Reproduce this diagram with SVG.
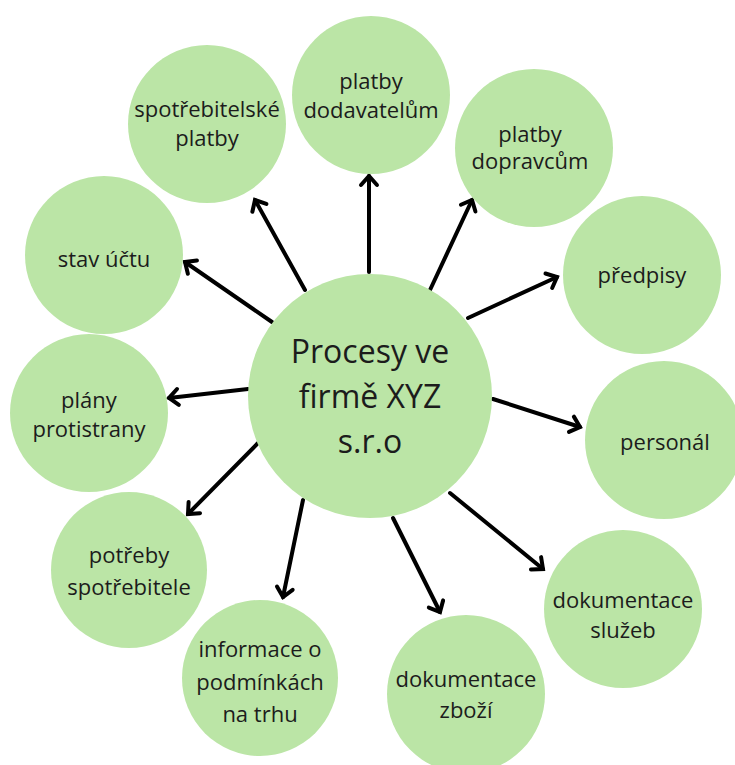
<svg xmlns="http://www.w3.org/2000/svg" width="735" height="765" viewBox="0 0 735 765">
<style>
.c{fill:#bbe5a6}
.t{font-family:"Open Sans","Liberation Sans",sans-serif;font-size:22px;fill:#1c1c1c;text-anchor:middle}
.big{font-size:32px}
.a{stroke:#000;stroke-width:4;fill:none;stroke-linecap:round;marker-end:url(#ah)}
</style>
<defs>
<marker id="ah" markerUnits="userSpaceOnUse" markerWidth="30" markerHeight="30" viewBox="-15 -15 30 30" refX="0" refY="0" orient="auto">
<path d="M-9,-8 L0,0 L-9,8" fill="none" stroke="#000" stroke-width="4" stroke-linecap="round" stroke-linejoin="miter"/>
</marker>
</defs>
<rect width="735" height="765" fill="#fff"/>
<g id="connectors">
<line class="a" x1="305" y1="290" x2="255" y2="200"/>
<line class="a" x1="369" y1="272" x2="369" y2="176"/>
<line class="a" x1="430" y1="290" x2="472" y2="200"/>
<line class="a" x1="468" y1="318" x2="557" y2="277"/>
<line class="a" x1="493" y1="399" x2="580" y2="427"/>
<line class="a" x1="450" y1="493" x2="543" y2="569"/>
<line class="a" x1="393" y1="518" x2="440" y2="612"/>
<line class="a" x1="303" y1="500" x2="283" y2="597"/>
<line class="a" x1="258" y1="443" x2="188" y2="514"/>
<line class="a" x1="248" y1="389" x2="169" y2="398"/>
<line class="a" x1="272" y1="322" x2="185" y2="262"/>
</g>
<g id="center"><circle class="c" cx="370" cy="396" r="122"/>
<text class="t big" x="370" y="363">Procesy ve</text><text class="t big" x="370" y="408">firmě XYZ</text><text class="t big" x="370" y="453">s.r.o</text></g>
<g id="spotrebitelske"><circle class="c" cx="207" cy="124" r="79"/>
<text class="t" x="207" y="117">spotřebitelské</text><text class="t" x="207" y="146">platby</text></g>
<g id="dodavatelum"><circle class="c" cx="371" cy="95" r="79"/>
<text class="t" x="371" y="89">platby</text><text class="t" x="371" y="118">dodavatelům</text></g>
<g id="dopravcum"><circle class="c" cx="534" cy="148" r="79"/>
<text class="t" x="530" y="142">platby</text><text class="t" x="530" y="169">dopravcům</text></g>
<g id="predpisy"><circle class="c" cx="642" cy="275" r="79"/>
<text class="t" x="642" y="283">předpisy</text></g>
<g id="personal"><circle class="c" cx="664" cy="440" r="79"/>
<text class="t" x="665" y="450">personál</text></g>
<g id="sluzeb"><circle class="c" cx="623" cy="609" r="79"/>
<text class="t" x="623" y="608">dokumentace</text><text class="t" x="623" y="638">služeb</text></g>
<g id="zbozi"><circle class="c" cx="466" cy="694" r="79"/>
<text class="t" x="466" y="687">dokumentace</text><text class="t" x="466" y="718">zboží</text></g>
<g id="informace"><circle class="c" cx="260" cy="678" r="78"/>
<text class="t" x="260" y="657">informace o</text><text class="t" x="260" y="690">podmínkách</text><text class="t" x="260" y="722">na trhu</text></g>
<g id="potreby"><circle class="c" cx="129" cy="570" r="78"/>
<text class="t" x="129" y="563">potřeby</text><text class="t" x="129" y="595">spotřebitele</text></g>
<g id="plany"><circle class="c" cx="89" cy="413" r="79"/>
<text class="t" x="89" y="408">plány</text><text class="t" x="89" y="437">protistrany</text></g>
<g id="stav"><circle class="c" cx="104" cy="255" r="79"/>
<text class="t" x="104" y="267">stav účtu</text></g>
</svg>
